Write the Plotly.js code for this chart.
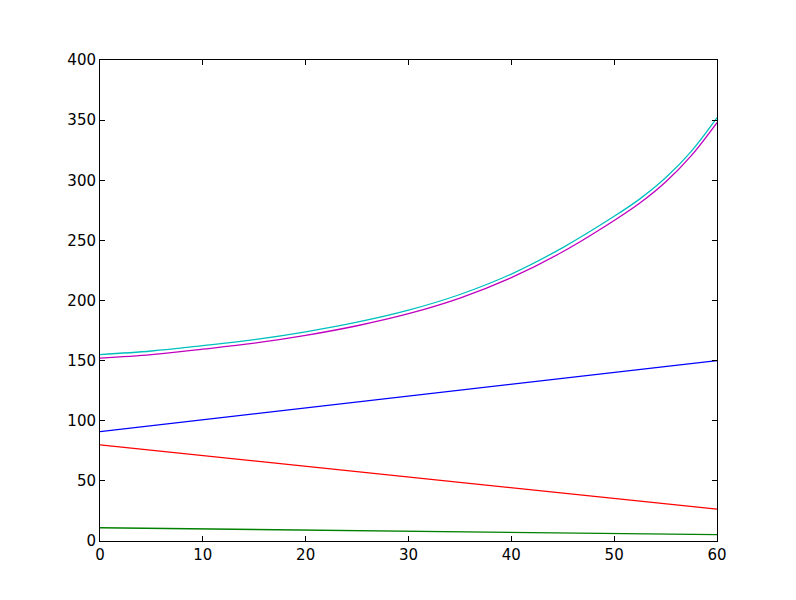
<!DOCTYPE html>
<html>
<head>
<meta charset="utf-8">
<script src="https://cdn.plot.ly/plotly-3.0.1.min.js"></script>
<style>html,body{margin:0;padding:0;background:#fff;}#chart{width:796px;height:600px;}</style>
</head>
<body>
<div id="chart"></div>
<script>
var xs = [0, 5, 10, 15, 20, 25, 30, 35, 40, 45, 50, 52.5, 55, 57.5, 60];
var cyanVals = [155, 158, 162.5, 167.5, 174, 182, 192, 205, 222, 244, 270, 284.5, 302, 324, 352];
var magentaVals = [152, 155, 159.5, 164.5, 171, 179, 189, 202, 219, 240.5, 266.5, 281, 298.5, 320.5, 348];
var lineX = [0, 60];
var blueVals = [91, 150];
var redVals = [80, 26.5];
var greenVals = [11, 5.3];

var traces = [
  {x: lineX, y: blueVals, mode: 'lines', line: {color: '#0000ff', width: 1.3}},
  {x: lineX, y: redVals, mode: 'lines', line: {color: '#ff0000', width: 1.3}},
  {x: lineX, y: greenVals, mode: 'lines', line: {color: '#008000', width: 1.3}},
  {x: xs, y: cyanVals, mode: 'lines', line: {color: '#00bfbf', width: 1.3, shape: 'spline', smoothing: 1}},
  {x: xs, y: magentaVals, mode: 'lines', line: {color: '#bf00bf', width: 1.3, shape: 'spline', smoothing: 1}}
];

var axisCommon = {
  showgrid: false, zeroline: false, showline: true, linecolor: '#000', linewidth: 1,
  mirror: 'ticks', ticks: 'inside', ticklen: 5, tickcolor: '#000', tickwidth: 1,
  tickfont: {family: 'DejaVu Sans', size: 15, color: '#000'}
};

var layout = {
  width: 796, height: 600,
  margin: {l: 100, r: 79, t: 60, b: 59},
  paper_bgcolor: '#fff', plot_bgcolor: '#fff',
  showlegend: false,
  xaxis: Object.assign({}, axisCommon, {range: [0, 60], dtick: 10, tick0: 0}),
  yaxis: Object.assign({}, axisCommon, {range: [0, 400], dtick: 50, tick0: 0})
};

Plotly.newPlot('chart', traces, layout, {staticPlot: true});
</script>
</body>
</html>
